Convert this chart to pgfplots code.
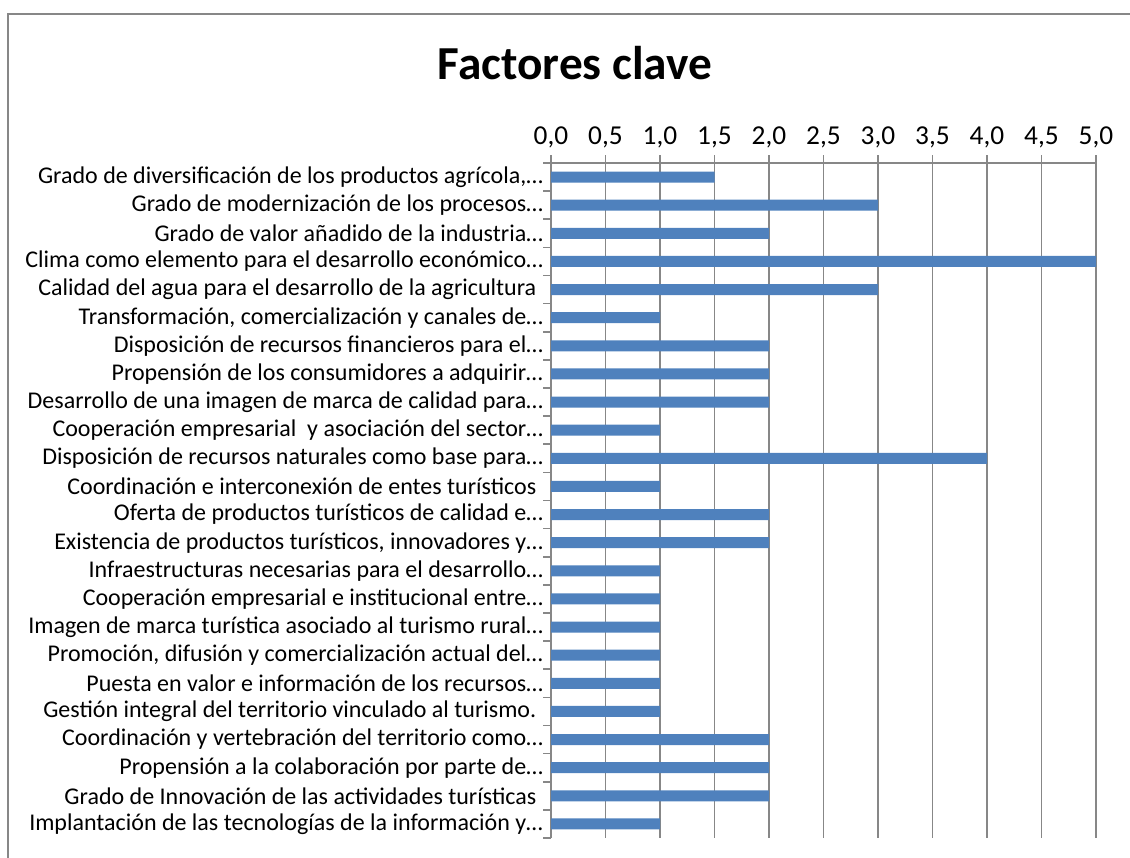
\documentclass[border=0pt]{standalone}
\usepackage{pgfplots}
\pgfplotsset{compat=1.18}
\usepackage{fontspec}
\setmainfont{Carlito}
\definecolor{barblue}{HTML}{4F81BD}
\definecolor{gridgray}{HTML}{878787}
\begin{document}
\begin{tikzpicture}[x=0.75pt,y=-0.75pt]
\useasboundingbox (0,0) rectangle (1130,857);
\draw[gridgray, line width=1.3pt] (8,860) -- (8,14) -- (1135,14);
\node[anchor=base, font=\fontsize{35.5}{42}\selectfont\bfseries] at (575,79) {Factores clave};
\coordinate (A) at (551,163);
\begin{axis}[
  at={(A)}, anchor=north west,
  scale only axis, width=408.75pt, height=506.25pt,
  xbar, bar width=8.25pt,
  xmin=0, xmax=5, ymin=-0.5, ymax=23.5,
  y dir=reverse,
  axis x line*=top, axis y line*=left,
  axis line style={gridgray, line width=1.2pt},
  xtick={0,0.5,...,5}, 
  xmajorgrids, grid style={gridgray, line width=1.2pt},
  tick align=outside, major tick length=6pt, minor tick length=6pt,
  every tick/.style={gridgray, line width=1.2pt},
  major y tick style={draw=none},
  ytick={0,...,23},
  minor ytick={-0.5,0.5,...,23.5},
  tick label style={font=\fontsize{18}{21}\selectfont},
  yticklabel style={xshift=3.5pt},
  xticklabel style={font=\fontsize{20.5}{24}\selectfont, yshift=2pt},
  /pgf/number format/.cd, fixed, fixed zerofill, precision=1, use comma, assume math mode=true,
  /pgfplots/.cd,
  yticklabels={
    {Grado de diversificación de los productos agrícola,…},
    {Grado de modernización de los procesos…},
    {Grado de valor añadido de la industria…},
    {Clima como elemento para el desarrollo económico…},
    {Calidad del agua para el desarrollo de la agricultura\kern5pt},
    {Transformación, comercialización y canales de…},
    {Disposición de recursos financieros para el…},
    {Propensión de los consumidores a adquirir…},
    {Desarrollo de una imagen de marca de calidad para…},
    {Cooperación empresarial\ \ y asociación del sector…},
    {Disposición de recursos naturales como base para…},
    {Coordinación e interconexión de entes turísticos\kern5pt},
    {Oferta de productos turísticos de calidad e…},
    {Existencia de productos turísticos, innovadores y…},
    {Infraestructuras necesarias para el desarrollo…},
    {Cooperación empresarial e institucional entre…},
    {Imagen de marca turística asociado al turismo rural…},
    {Promoción, difusión y comercialización actual del…},
    {Puesta en valor e información de los recursos…},
    {Gestión integral del territorio vinculado al turismo.\kern5pt},
    {Coordinación y vertebración del territorio como…},
    {Propensión a la colaboración por parte de…},
    {Grado de Innovación de las actividades turísticas\kern5pt},
    {Implantación de las tecnologías de la información y…}
  },
]
\addplot[fill=barblue, draw=none] coordinates {
(1.5,0) (3,1) (2,2) (5,3) (3,4) (1,5) (2,6) (2,7) (2,8) (1,9) (4,10) (1,11)
(2,12) (2,13) (1,14) (1,15) (1,16) (1,17) (1,18) (1,19) (2,20) (2,21) (2,22) (1,23)
};
\end{axis}
\end{tikzpicture}
\end{document}
